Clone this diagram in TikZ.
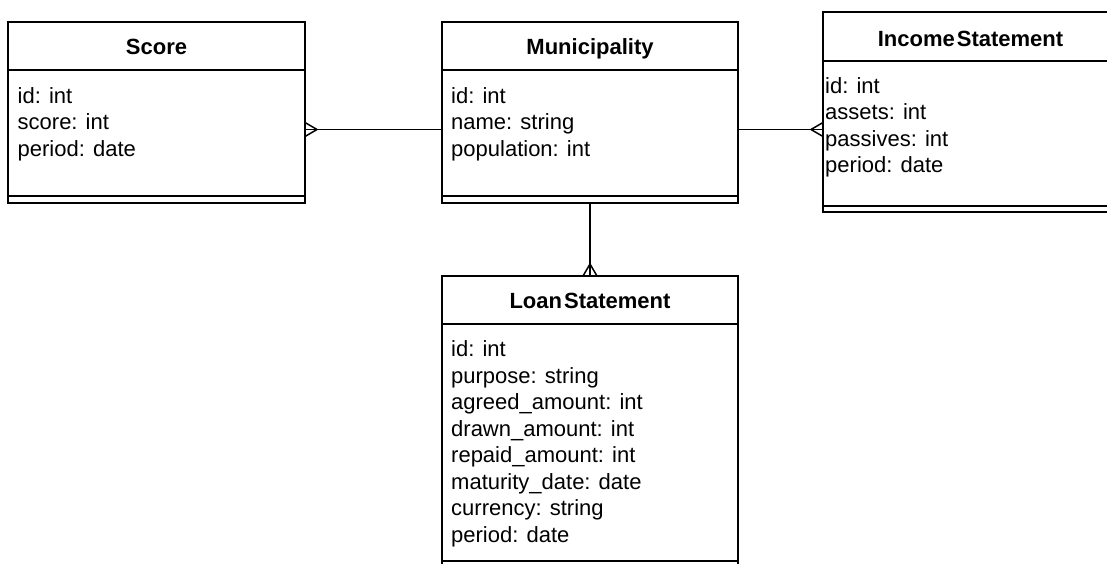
\documentclass[tikz,border=0pt]{standalone}
\usepackage{fontspec}
\setmainfont{Liberation Sans}
\usetikzlibrary{calc}

\tikzset{
  ent/.style={draw, line width=1.5pt, anchor=north west, inner sep=0pt, outer sep=0pt},
  divider/.style={line width=1.5pt},
  ttl/.style={font=\bfseries\fontsize{22}{26.5}\selectfont, inner sep=0pt, anchor=base},
  attr/.style={font=\fontsize{22}{26.5}\selectfont, inner sep=0pt, anchor=base west},
  link/.style={line width=1.5pt},
  foot/.style={line width=1.5pt, line join=miter},
}

\begin{document}
\begin{tikzpicture}[x=1pt, y=-1pt]
  \clip (0,0) rectangle (1107,563);

  % ---------- Score ----------
  \node[ent, minimum width=297pt, minimum height=181pt] (score) at (8,22) {};
  \draw[divider] ([yshift=-48pt]score.north west) -- ([yshift=-48pt]score.north east);
  \draw[divider] ([yshift=7pt]score.south west) -- ([yshift=7pt]score.south east);
  \node[ttl] (scoreT) at (156.5,54.5) {Score};
  \foreach \t [count=\i] in {id: int, score: int, period: date}
    \node[attr] (score-a\i) at (17.5,{76.5+26.5*\i}) {\t};

  % ---------- Municipality ----------
  \node[ent, minimum width=296pt, minimum height=181pt] (mun) at (442,22) {};
  \draw[divider] ([yshift=-48pt]mun.north west) -- ([yshift=-48pt]mun.north east);
  \draw[divider] ([yshift=7pt]mun.south west) -- ([yshift=7pt]mun.south east);
  \node[ttl] (munT) at (590,54.5) {Municipality};
  \foreach \t [count=\i] in {id: int, name: string, population: int}
    \node[attr] (mun-a\i) at (451,{76.5+26.5*\i}) {\t};

  % ---------- IncomeStatement ----------
  \node[ent, minimum width=295pt, minimum height=200pt] (inc) at (823,12) {};
  \draw[divider] ([yshift=-49pt]inc.north west) -- ([yshift=-49pt]inc.north east);
  \draw[divider] ([yshift=6pt]inc.south west) -- ([yshift=6pt]inc.south east);
  \node[ttl] (incT) at (970.5,46.5) {Income\kern2pt Statement};
  \foreach \t [count=\i] in {id: int, assets: int, passives: int, period: date}
    \node[attr] (inc-a\i) at (825,{66.5+26.5*\i}) {\t};

  % ---------- LoanStatement ----------
  \node[ent, minimum width=296pt, minimum height=292pt] (loan) at (442,276) {};
  \draw[divider] ([yshift=-48pt]loan.north west) -- ([yshift=-48pt]loan.north east);
  \draw[divider] ([yshift=7pt]loan.south west) -- ([yshift=7pt]loan.south east);
  \node[ttl] (loanT) at (590,308) {Loan\kern2pt Statement};
  \foreach \t [count=\i] in {id: int, purpose: string, agreed\_amount: int,
      drawn\_amount: int, repaid\_amount: int, maturity\_date: date,
      currency: string, period: date}
    \node[attr] (loan-a\i) at (451,{330+26.5*\i}) {\t};

  % ---------- relationships ----------
  \coordinate (rowA) at (0,129.5);

  % Municipality 1 -- * Score
  \draw[link] (mun.west |- rowA) -- (score.east |- rowA);
  \draw[foot] ($(score.east |- rowA)+(0,-7)$) -- ++(12,7) -- ++(-12,7);

  % Municipality 1 -- * IncomeStatement
  \draw[link] (mun.east |- rowA) -- (inc.west |- rowA);
  \draw[foot] ($(inc.west |- rowA)+(0,-7)$) -- ++(-12,7) -- ++(12,7);

  % Municipality 1 -- * LoanStatement
  \draw[link] (mun.south) -- (loan.north);
  \draw[foot] ($(loan.north)+(-7,0)$) -- ++(7,-12) -- ++(7,12);
\end{tikzpicture}
\end{document}
